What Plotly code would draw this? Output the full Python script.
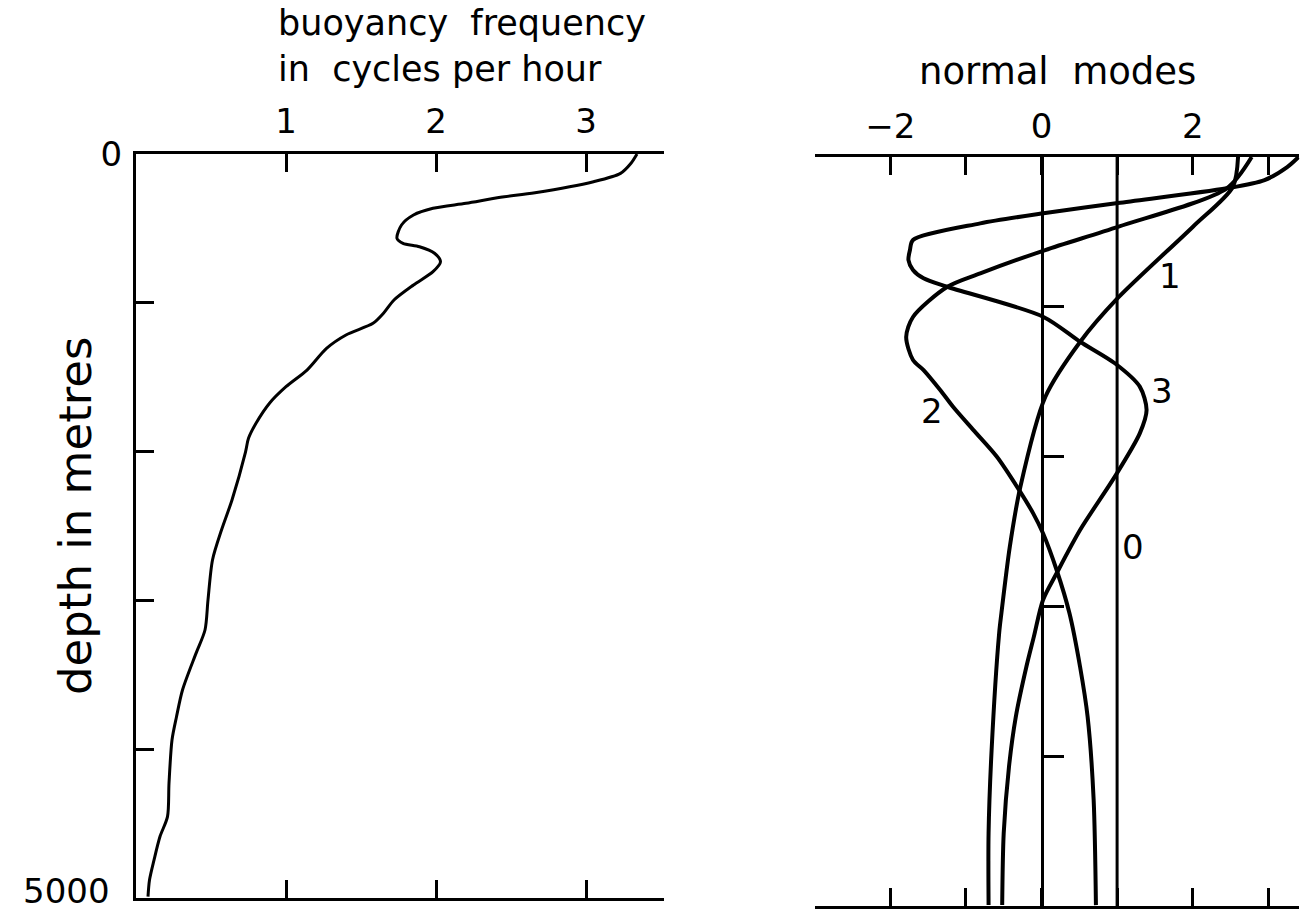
import plotly.graph_objects as go

W, H = 1304, 916

# ---------------- data ----------------
# buoyancy frequency profile (cycles per hour) vs depth (m)
n_depth = [0, 62, 130, 186, 260, 291, 331, 365, 410, 477, 567, 600, 623, 667, 724, 791,
           880, 981, 1070, 1138, 1216, 1306, 1452, 1564, 1675, 1810, 1911, 2003, 2325,
           2527, 2728, 2997, 3199, 3356, 3602, 3782, 3938, 4229, 4453, 4587, 4745, 4879, 4991]
n_freq = [3.34, 3.30, 3.23, 3.05, 2.66, 2.43, 2.20, 1.98, 1.85, 1.77, 1.74, 1.78, 1.89, 1.99,
          2.03, 1.98, 1.85, 1.72, 1.65, 1.58, 1.40, 1.27, 1.14, 1.00, 0.89, 0.80, 0.75, 0.73,
          0.64, 0.57, 0.51, 0.48, 0.46, 0.40, 0.31, 0.27, 0.24, 0.22, 0.21, 0.16, 0.12, 0.09, 0.08]

# normal modes vs depth (m)
mode0_depth = [0, 5000]
mode0_val = [1.0, 1.0]

mode1_depth = [0, 200, 467, 941, 1235, 1602, 2203, 2604, 3044, 3178, 3959, 4513, 4993]
mode1_val = [2.60, 2.53, 2.00, 1.01, 0.51, 0.05, -0.28, -0.42, -0.53, -0.56, -0.66, -0.70, -0.70]

mode2_depth = [0, 209, 465, 621, 777, 868, 1068, 1202, 1355, 1422, 1555, 1667, 1823, 2001,
               2212, 2379, 2512, 2757, 3046, 3403, 3737, 4293, 4994]
mode2_val = [2.78, 2.45, 1.02, 0.05, -0.81, -1.25, -1.70, -1.79, -1.70, -1.56, -1.34, -1.17,
             -0.90, -0.59, -0.31, -0.11, 0.02, 0.20, 0.37, 0.51, 0.61, 0.69, 0.72]

mode3_depth = [0, 67, 154, 209, 307, 374, 443, 554, 621, 688, 754, 810, 866, 1066, 1233, 1377,
               1533, 1689, 1845, 2134, 2490, 2779, 2957, 3200, 3403, 3737, 4070, 4515, 4994]
mode3_val = [3.40, 3.25, 2.95, 2.45, 1.01, 0.05, -0.81, -1.70, -1.74, -1.76, -1.70, -1.56, -1.25,
             0.02, 0.51, 0.97, 1.30, 1.39, 1.30, 0.97, 0.51, 0.20, 0.02, -0.10, -0.20, -0.34,
             -0.43, -0.50, -0.52]

mode_labels = ["1", "2", "3", "0"]
mode_label_x = [1.70, -1.45, 1.59, 1.21]
mode_label_depth = [794, 1696, 1562, 2604]

left_ticks = [1, 2, 3]
depth_ticks = [0, 1000, 2000, 3000, 4000, 5000]
depth_ticktext = ["0", "", "", "", "", ""]
bottom_depth_label = "5000"
right_ticks = [-3, -2, -1, 0, 1, 2, 3]
right_ticktext = ["", "\u22122", "", "0", "", "2", ""]
inner_depth_ticks = [1000, 2000, 3000, 4000]

# ---------------- layout geometry ----------------
FONT = "DejaVu Sans"
def px_x(p):
    return p / W
def px_y(p):
    return 1 - p / H

left_xrange = [0, 3.52]
left_xdom = [px_x(136), px_x(136 + 3.52 * 150)]
left_ydom = [px_y(898), px_y(154)]

right_xrange = [-3.0, 3.41]
right_xdom = [px_x(814.7), px_x(814.7 + 6.41 * 75.6)]
right_ydom = [px_y(906), px_y(157)]
zero_pos = right_xdom[0] + (0 - right_xrange[0]) / (right_xrange[1] - right_xrange[0]) * (right_xdom[1] - right_xdom[0])

fig = go.Figure()

fig.add_trace(go.Scatter(x=n_freq, y=n_depth, mode="lines",
                         line=dict(color="black", width=3, shape="spline", smoothing=0.8),
                         xaxis="x", yaxis="y", showlegend=False, hoverinfo="skip"))
fig.add_trace(go.Scatter(x=mode0_val, y=mode0_depth, mode="lines", line=dict(color="black", width=3),
                         xaxis="x2", yaxis="y2", showlegend=False, hoverinfo="skip"))
for d, v in [(mode1_depth, mode1_val), (mode2_depth, mode2_val), (mode3_depth, mode3_val)]:
    fig.add_trace(go.Scatter(x=v, y=d, mode="lines",
                             line=dict(color="black", width=4, shape="spline", smoothing=0.8),
                             xaxis="x2", yaxis="y2", showlegend=False, hoverinfo="skip"))

axis_common = dict(showgrid=False, zeroline=False, showline=True, linecolor="black", linewidth=3,
                   ticks="inside", tickcolor="black", tickwidth=3, automargin=False,
                   ticklabeloverflow="allow",
                   tickfont=dict(family=FONT, size=34, color="black"))

fig.update_layout(
    width=W, height=H, margin=dict(l=0, r=0, t=0, b=0, pad=0, autoexpand=False),
    paper_bgcolor="white", plot_bgcolor="white", showlegend=False,
    xaxis=dict(axis_common, domain=left_xdom, range=left_xrange, side="top", anchor="y",
               mirror="ticks", tickvals=left_ticks, ticklen=18, ticklabelstandoff=4),
    yaxis=dict(axis_common, domain=left_ydom, range=[5000, 0], anchor="x", mirror=False,
               tickvals=depth_ticks, ticktext=depth_ticktext, ticklen=18, ticklabelstandoff=4),
    xaxis2=dict(axis_common, domain=right_xdom, range=right_xrange, side="top", anchor="y2",
                mirror="ticks", tickvals=right_ticks, ticktext=right_ticktext, ticklen=18,
                ticklabelstandoff=2),
    yaxis2=dict(axis_common, domain=right_ydom, range=[5000, 0], anchor="free", position=zero_pos,
                mirror=False, tickvals=inner_depth_ticks, ticklen=20, showticklabels=False),
)

fig.add_annotation(text="buoyancy\u00a0\u00a0frequency<br>in\u00a0\u00a0cycles per hour",
                   xref="paper", yref="paper", x=px_x(276), y=px_y(1), align="left",
                   xanchor="left", yanchor="top", showarrow=False,
                   font=dict(family=FONT, size=35, color="black"))
fig.add_annotation(text="normal\u00a0\u00a0modes", xref="paper", yref="paper", x=px_x(1057), y=px_y(72),
                   xanchor="center", yanchor="middle", showarrow=False,
                   font=dict(family=FONT, size=37, color="black"))
fig.add_annotation(text="depth in metres", xref="paper", yref="paper", x=px_x(75), y=px_y(516),
                   xanchor="center", yanchor="middle", textangle=-90, showarrow=False,
                   font=dict(family=FONT, size=45, color="black"))
fig.add_annotation(text=bottom_depth_label, xref="paper", yref="y", x=px_x(112), y=5000,
                   xanchor="right", yanchor="middle", yshift=7, showarrow=False,
                   font=dict(family=FONT, size=34, color="black"))

for t, xv, dv in zip(mode_labels, mode_label_x, mode_label_depth):
    fig.add_annotation(text=t, xref="x2", yref="y2", x=xv, y=dv, showarrow=False,
                       xanchor="center", yanchor="middle", font=dict(family=FONT, size=34, color="black"))

fig.write_html("out.html")
